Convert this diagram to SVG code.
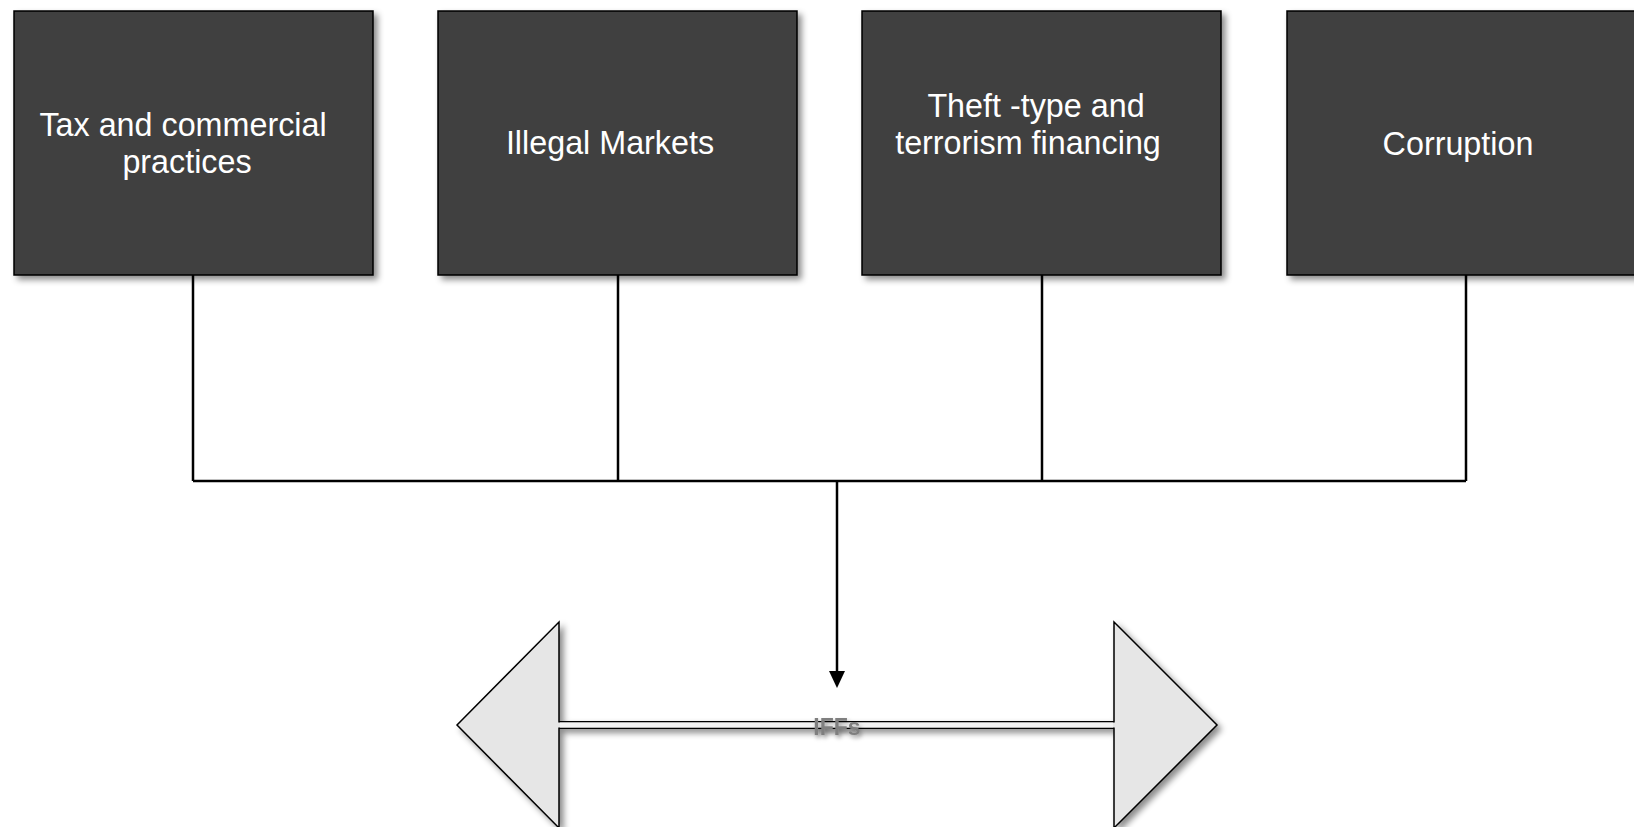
<svg xmlns="http://www.w3.org/2000/svg" width="1634" height="827" viewBox="0 0 1634 827">
<style>
.box{fill:#404040;stroke:#000;stroke-width:1.5;filter:url(#sh)}
.lbl{font-family:"Liberation Sans",Arial,sans-serif;font-size:32.3px;fill:#fff;text-anchor:middle}
.con{stroke:#000;stroke-width:2.5;fill:none}
.iff{font-family:"Liberation Sans",Arial,sans-serif;font-size:23px;font-weight:bold;fill:#7f7f7f;text-anchor:middle;filter:url(#tsh)}
</style>
<defs>
<filter id="sh" x="-10%" y="-10%" width="130%" height="130%">
<feDropShadow dx="4" dy="4" stdDeviation="3" flood-color="#000" flood-opacity="0.45"/>
</filter>
<filter id="tsh" x="-20%" y="-30%" width="150%" height="180%">
<feDropShadow dx="2" dy="3" stdDeviation="2" flood-color="#000" flood-opacity="0.35"/>
</filter>
</defs>
<rect width="1634" height="827" fill="#fff"/>
<g id="connectors">
<path class="con" d="M193 275 V481 M618 275 V481 M1042 275 V481 M1466 275 V481 M193 481 H1466"/>
<path class="con" d="M837 481 V672"/>
<path d="M829 671 L845 671 L837 688 Z" fill="#000"/>
</g>
<g id="node-tax">
<rect class="box" x="14" y="11" width="359" height="264"/>
<text class="lbl"><tspan x="183" y="136">Tax and commercial</tspan><tspan x="187" y="173">practices</tspan></text>
</g>
<g id="node-illegal">
<rect class="box" x="438" y="11" width="359" height="264"/>
<text class="lbl" x="610" y="154">Illegal Markets</text>
</g>
<g id="node-theft">
<rect class="box" x="862" y="11" width="359" height="264"/>
<text class="lbl"><tspan x="1036" y="117">Theft -type and</tspan><tspan x="1028" y="154">terrorism financing</tspan></text>
</g>
<g id="node-corruption">
<rect class="box" x="1287" y="11" width="359" height="264"/>
<text class="lbl" x="1458" y="155">Corruption</text>
</g>
<g id="node-iffs">
<polygon points="457,725 559,622 559,721.7 1114,721.7 1114,622 1217,725 1114,828 1114,728.3 559,728.3 559,828" fill="#e6e6e6" stroke="#000" stroke-width="1.5" filter="url(#sh)"/>
<rect x="560" y="722.5" width="553" height="5" fill="#f4f4f4"/>
<text class="iff" x="837" y="735">IFFs</text>
</g>
</svg>
